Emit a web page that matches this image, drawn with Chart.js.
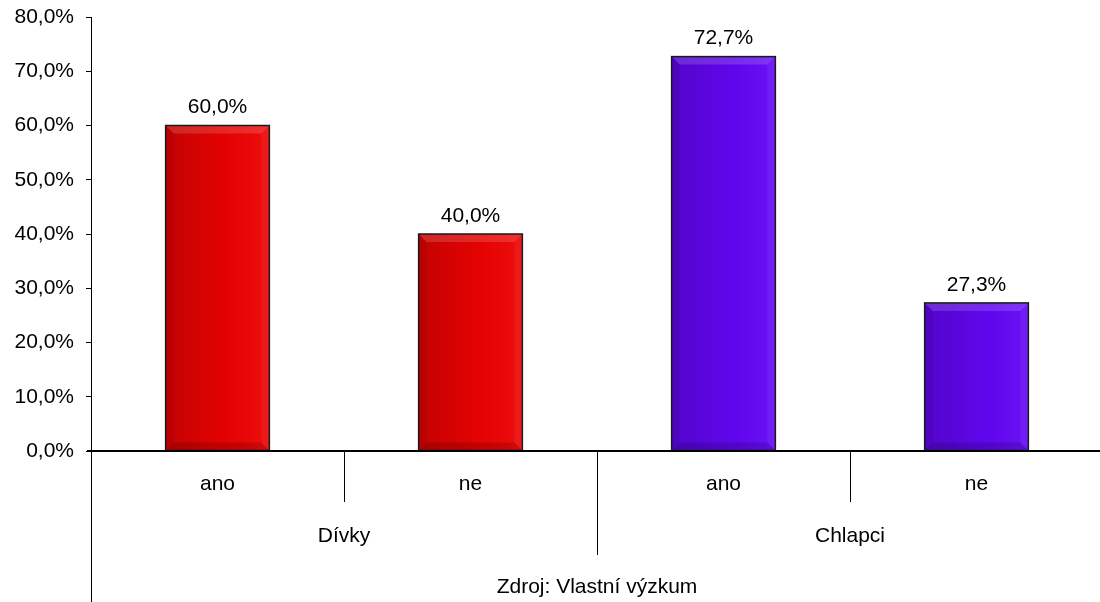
<!DOCTYPE html>
<html>
<head>
<meta charset="utf-8">
<script src="https://cdn.jsdelivr.net/npm/chart.js@4.4.1/dist/chart.umd.min.js"></script>
<style>
  html, body { margin: 0; padding: 0; background: #fff; overflow: hidden; }
  #wrap { position: relative; width: 1103px; height: 602px; }
</style>
</head>
<body>
<div id="wrap"><canvas id="c"></canvas></div>
<script>
const categories = ['ano', 'ne', 'ano', 'ne'];
const groups = ['Dívky', 'Chlapci'];
const groupSize = 2;
const values = [60.0, 40.0, 72.7, 27.3];
const barColors = ['#ee0202', '#ee0202', '#6406f6', '#6406f6'];
const yTicks = { min: 0, max: 80, step: 10 };
const sourceText = 'Zdroj: Vlastní výzkum';

const FONT = '"Liberation Sans", Arial, sans-serif';
const FS = 21;

function fmt(v) { return v.toFixed(1).replace('.', ',') + '%'; }

const decor = {
  id: 'decor',
  afterDatasetsDraw(chart) {
    const ctx = chart.ctx;
    const meta = chart.getDatasetMeta(0);
    meta.data.forEach((bar, i) => {
      const p = bar.getProps(['x', 'y', 'base', 'width'], true);
      const l = p.x - p.width / 2, r = p.x + p.width / 2;
      const t = Math.min(p.y, p.base), b = Math.max(p.y, p.base);
      const bw = 8;
      ctx.save();
      ctx.beginPath(); ctx.rect(l, t, r - l, b - t); ctx.clip();
      const g = ctx.createLinearGradient(l, 0, r, 0);
      g.addColorStop(0, 'rgba(0,0,0,0.18)');
      g.addColorStop(0.6, 'rgba(0,0,0,0.04)');
      g.addColorStop(1, 'rgba(255,255,255,0.05)');
      ctx.fillStyle = g; ctx.fillRect(l, t, r - l, b - t);
      ctx.fillStyle = 'rgba(255,255,255,0.15)';
      ctx.beginPath(); ctx.moveTo(l, t); ctx.lineTo(r, t); ctx.lineTo(r - bw, t + bw); ctx.lineTo(l + bw, t + bw); ctx.closePath(); ctx.fill();
      ctx.fillStyle = 'rgba(0,0,0,0.15)';
      ctx.beginPath(); ctx.moveTo(l, b); ctx.lineTo(r, b); ctx.lineTo(r - bw, b - bw); ctx.lineTo(l + bw, b - bw); ctx.closePath(); ctx.fill();
      ctx.fillStyle = 'rgba(0,0,0,0.06)';
      ctx.beginPath(); ctx.moveTo(l, t); ctx.lineTo(l + bw, t + bw); ctx.lineTo(l + bw, b - bw); ctx.lineTo(l, b); ctx.closePath(); ctx.fill();
      ctx.fillStyle = 'rgba(255,255,255,0.05)';
      ctx.beginPath(); ctx.moveTo(r, t); ctx.lineTo(r - bw, t + bw); ctx.lineTo(r - bw, b - bw); ctx.lineTo(r, b); ctx.closePath(); ctx.fill();
      ctx.restore();
      ctx.save();
      ctx.strokeStyle = '#1a1a1a'; ctx.lineWidth = 1.5;
      ctx.strokeRect(l, t, r - l, b - t);
      ctx.restore();
      ctx.save();
      ctx.fillStyle = '#000'; ctx.font = FS + 'px ' + FONT;
      ctx.textAlign = 'center'; ctx.textBaseline = 'middle';
      ctx.fillText(fmt(values[i]), p.x, t - 18);
      ctx.restore();
    });
  },
  afterDraw(chart) {
    const ctx = chart.ctx;
    const xs = chart.scales.x;
    const area = chart.chartArea;
    const y0 = area.bottom;
    ctx.save();
    ctx.strokeStyle = '#000'; ctx.lineWidth = 2;
    ctx.beginPath(); ctx.moveTo(area.left - 4, y0); ctx.lineTo(area.right, y0); ctx.stroke();
    ctx.lineWidth = 1;
    const n = categories.length;
    const half = (xs.getPixelForValue(1) - xs.getPixelForValue(0)) / 2;
    for (let k = 0; k <= n; k++) {
      const x = Math.round(xs.getPixelForValue(k) - half) + 0.5;
      let len;
      if (k === 0 || k === n) len = 151;
      else if (k % groupSize === 0) len = 104;
      else len = 51;
      ctx.beginPath(); ctx.moveTo(x, y0); ctx.lineTo(x, y0 + len); ctx.stroke();
    }
    ctx.fillStyle = '#000'; ctx.font = FS + 'px ' + FONT;
    ctx.textAlign = 'center'; ctx.textBaseline = 'middle';
    categories.forEach((c, i) => ctx.fillText(c, xs.getPixelForValue(i), y0 + 33));
    groups.forEach((g, gi) => {
      const a = xs.getPixelForValue(gi * groupSize) - half;
      const b = xs.getPixelForValue(gi * groupSize + groupSize - 1) + half;
      ctx.fillText(g, (a + b) / 2, y0 + 85);
    });
    ctx.fillText(sourceText, (area.left + area.right) / 2, y0 + 136);
    ctx.restore();
  }
};

new Chart(document.getElementById('c'), {
  type: 'bar',
  data: {
    labels: categories,
    datasets: [{
      data: values,
      backgroundColor: barColors,
      borderWidth: 0,
      barPercentage: 0.41,
      categoryPercentage: 1.0
    }]
  },
  plugins: [decor],
  options: {
    responsive: true,
    maintainAspectRatio: false,
    animation: false,
    events: [],
    layout: { padding: { top: 17, left: 0, right: 0, bottom: 0 } },
    plugins: { legend: { display: false }, tooltip: { enabled: false } },
    scales: {
      x: {
        grid: { display: false },
        border: { display: false },
        ticks: { display: false },
        afterFit(s) { s.height = 151; s.paddingLeft = 0; s.paddingRight = 0; }
      },
      y: {
        min: yTicks.min, max: yTicks.max,
        afterFit(s) { s.width = 91; s.paddingTop = 0; s.paddingBottom = 0; },
        border: { display: true, color: '#000', width: 1 },
        grid: { drawOnChartArea: false, drawTicks: true, tickLength: 5, color: '#000' },
        ticks: {
          stepSize: yTicks.step,
          padding: 12,
          color: '#000',
          font: { family: FONT, size: FS },
          callback: v => fmt(v)
        }
      }
    }
  }
});
</script>
</body>
</html>
